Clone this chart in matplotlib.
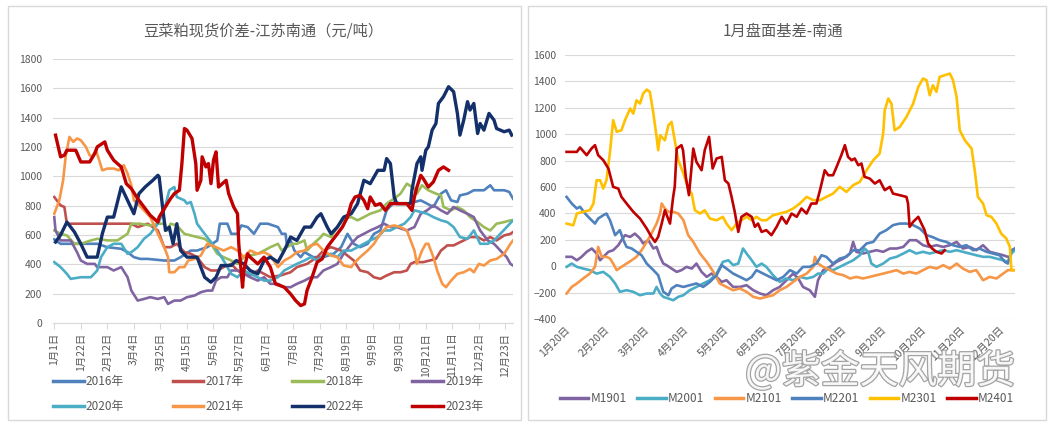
import matplotlib
matplotlib.use("Agg")
import matplotlib.pyplot as plt
import matplotlib.patheffects as pe
from matplotlib.patches import Rectangle

plt.rcParams['font.family'] = ['Noto Sans CJK SC', 'DejaVu Sans']

# ---------------- left chart: spot spread by year (x = day of year) ----------------
left_ticks = ['1月1日', '1月22日', '2月12日', '3月4日', '3月25日', '4月15日', '5月6日',
              '5月27日', '6月17日', '7月8日', '7月29日', '8月19日', '9月9日', '9月30日',
              '10月21日', '11月11日', '12月2日', '12月23日']

d2016 = [0, 5, 13, 24, 34, 42, 53, 58, 63, 68, 74, 87, 95, 100, 108, 113, 121, 129, 131, 137, 140, 145,
         148, 153, 158, 163, 169, 177, 180, 183, 184, 187, 190, 195, 198, 205, 213, 221, 227, 232, 237,
         242, 248, 253, 258, 263, 269, 274, 279, 285, 290, 295, 300, 306, 310, 314, 319, 321, 327, 332,
         340, 345, 348, 356, 360, 363]
v2016 = [570, 540, 540, 540, 540, 517, 506, 483, 449, 437, 437, 426, 426, 449, 494, 494, 517, 563, 677,
         677, 608, 608, 665, 654, 608, 677, 677, 654, 608, 608, 540, 563, 494, 449, 483, 449, 449, 472,
         517, 608, 540, 517, 540, 608, 631, 768, 825, 814, 814, 825, 836, 814, 791, 882, 905, 836, 825,
         870, 882, 905, 905, 939, 905, 905, 894, 848]

d2017 = [0, 5, 8, 10, 21, 34, 47, 61, 66, 74, 82, 87, 92, 97, 103, 108, 113, 119, 124, 129, 134, 140,
         145, 150, 155, 161, 166, 171, 179, 187, 192, 200, 208, 213, 219, 227, 232, 237, 242, 248, 253,
         258, 263, 269, 274, 279, 282, 285, 292, 297, 302, 306, 311, 316, 324, 329, 335, 340, 345, 350,
         356, 361, 363]
v2017 = [859, 802, 791, 677, 677, 677, 677, 677, 654, 677, 631, 517, 517, 540, 483, 472, 449, 381, 358,
         358, 381, 403, 358, 335, 324, 358, 335, 312, 324, 346, 381, 403, 449, 494, 517, 494, 460, 426,
         358, 346, 312, 301, 324, 346, 346, 358, 403, 415, 415, 426, 437, 494, 529, 529, 563, 586, 586,
         563, 586, 563, 597, 608, 620]

d2018 = [0, 5, 10, 16, 21, 29, 34, 42, 50, 58, 61, 68, 76, 82, 87, 90, 92, 97, 103, 108, 113, 119, 124,
         129, 134, 140, 145, 150, 155, 161, 166, 171, 177, 180, 184, 189, 192, 198, 200, 205, 211, 213,
         219, 224, 229, 235, 240, 245, 250, 258, 263, 269, 274, 279, 285, 287, 291, 296, 302, 306, 308,
         314, 319, 324, 329, 335, 340, 345, 350, 356, 361, 363]
v2018 = [631, 608, 597, 540, 540, 563, 574, 563, 563, 608, 677, 677, 665, 677, 677, 631, 677, 665, 608,
         597, 586, 574, 540, 472, 449, 426, 403, 449, 460, 472, 494, 517, 540, 494, 517, 540, 540, 563,
         494, 540, 586, 608, 586, 654, 711, 722, 700, 722, 745, 768, 814, 848, 882, 950, 916, 882, 939,
         905, 882, 870, 791, 768, 791, 768, 722, 688, 654, 631, 677, 688, 700, 700]

d2019 = [0, 1, 5, 13, 18, 21, 26, 32, 34, 42, 47, 53, 58, 61, 66, 71, 76, 82, 87, 90, 95, 100, 105, 111,
         116, 121, 125, 128, 132, 137, 140, 145, 150, 155, 161, 166, 171, 177, 182, 187, 192, 198, 203,
         208, 213, 219, 224, 229, 235, 240, 245, 250, 256, 261, 266, 271, 279, 285, 290, 295, 300, 306,
         311, 316, 321, 327, 332, 337, 343, 348, 353, 358, 361, 363]
v2019 = [722, 631, 563, 563, 483, 426, 403, 403, 381, 381, 358, 381, 312, 221, 153, 164, 176, 164, 176,
         130, 153, 153, 176, 187, 210, 221, 221, 289, 312, 312, 358, 358, 335, 312, 289, 312, 267, 267,
         244, 244, 267, 289, 312, 312, 358, 381, 403, 472, 540, 586, 608, 631, 654, 677, 654, 654, 631,
         654, 745, 768, 802, 768, 745, 791, 768, 745, 722, 631, 563, 540, 494, 449, 403, 392]

d2020 = [0, 5, 10, 13, 21, 29, 34, 37, 42, 47, 53, 58, 61, 66, 71, 76, 82, 87, 91, 95, 97, 103, 105, 108,
         111, 113, 119, 124, 129, 134, 140, 145, 150, 155, 161, 166, 171, 177, 182, 187, 192, 198, 203,
         208, 213, 219, 224, 229, 235, 240, 245, 250, 256, 261, 266, 271, 277, 282, 285, 290, 295, 300,
         306, 311, 316, 321, 327, 332, 337, 343, 348, 353, 358, 363]
v2020 = [415, 381, 335, 301, 312, 312, 358, 449, 517, 540, 540, 472, 483, 517, 574, 608, 677, 768, 905,
         927, 859, 836, 814, 825, 745, 677, 608, 552, 494, 426, 335, 312, 358, 335, 312, 289, 289, 312,
         358, 381, 403, 426, 449, 426, 460, 472, 449, 494, 494, 517, 540, 563, 586, 631, 631, 654, 677,
         722, 768, 757, 745, 722, 700, 688, 654, 586, 574, 631, 540, 540, 563, 608, 654, 700]

d2021 = [0, 4, 7, 9, 12, 15, 18, 21, 25, 28, 30, 33, 36, 38, 42, 47, 51, 55, 58, 61, 63, 66, 71, 76, 82,
         87, 90, 91, 95, 99, 103, 106, 111, 116, 121, 128, 134, 140, 145, 150, 155, 161, 166, 171, 177,
         182, 187, 192, 198, 203, 208, 213, 219, 224, 229, 235, 238, 242, 248, 253, 258, 263, 269, 274,
         279, 285, 287, 291, 294, 296, 300, 303, 307, 310, 314, 319, 324, 329, 332, 336, 340, 345, 350,
         356, 361, 363]
v2021 = [745, 836, 973, 1133, 1269, 1235, 1258, 1246, 1201, 1144, 1133, 1178, 1098, 1041, 1053, 1053,
         1041, 1076, 1019, 939, 836, 814, 768, 722, 608, 517, 449, 346, 346, 381, 381, 426, 437, 460,
         540, 517, 494, 517, 494, 449, 494, 472, 483, 460, 381, 426, 449, 483, 494, 529, 540, 494, 460,
         449, 392, 381, 415, 449, 494, 540, 608, 654, 665, 654, 631, 494, 403, 494, 540, 540, 449, 358,
         267, 244, 289, 335, 346, 369, 346, 403, 392, 426, 437, 472, 540, 563]

d2022 = [1, 5, 10, 16, 21, 26, 34, 38, 42, 47, 53, 58, 63, 67, 72, 78, 82, 83, 86, 88, 91, 94, 97, 100,
         105, 113, 119, 124, 128, 132, 140, 144, 150, 155, 161, 166, 171, 177, 182, 187, 192, 198, 203,
         208, 211, 216, 219, 224, 229, 235, 240, 245, 250, 256, 261, 263, 266, 269, 271, 282, 283, 287,
         290, 291, 294, 296, 299, 302, 304, 308, 312, 316, 319, 321, 324, 327, 329, 332, 335, 337, 340,
         344, 348, 350, 356, 360, 362]
v2022 = [552, 600, 688, 620, 540, 449, 449, 608, 722, 722, 928, 836, 745, 882, 928, 973, 1007, 996, 768,
         631, 654, 540, 677, 494, 449, 449, 312, 278, 312, 392, 392, 426, 403, 358, 335, 426, 449, 415,
         494, 586, 563, 654, 654, 722, 745, 654, 608, 654, 722, 745, 814, 973, 950, 1041, 1041, 1121,
         1087, 859, 814, 814, 905, 1087, 1133, 1041, 1178, 1201, 1315, 1360, 1497, 1543, 1611, 1577,
         1429, 1281, 1383, 1509, 1452, 1497, 1292, 1360, 1315, 1429, 1383, 1326, 1304, 1315, 1281]

d2023 = [1, 5, 8, 10, 17, 21, 28, 32, 34, 40, 42, 47, 53, 57, 61, 66, 71, 76, 82, 83, 87, 92, 95, 99,
         101, 103, 105, 109, 112, 113, 116, 117, 120, 122, 124, 126, 128, 130, 133, 136, 138, 142, 145,
         146, 149, 150, 153, 155, 161, 166, 171, 175, 182, 187, 191, 195, 198, 200, 204, 208, 212, 216,
         220, 224, 228, 232, 235, 238, 242, 245, 248, 250, 254, 258, 262, 266, 271, 279, 283, 285, 287,
         290, 292, 296, 300, 304, 308, 312]
v2023 = [1281, 1133, 1144, 1178, 1178, 1098, 1098, 1155, 1201, 1235, 1178, 1110, 1064, 950, 916, 848,
         791, 734, 688, 722, 779, 848, 882, 905, 1087, 1326, 1315, 1258, 1087, 905, 973, 1133, 1064,
         1087, 950, 1110, 1167, 927, 950, 973, 882, 791, 745, 540, 244, 358, 472, 449, 403, 449, 381,
         267, 244, 198, 153, 119, 130, 221, 312, 415, 437, 517, 563, 608, 654, 722, 814, 859, 870, 836,
         779, 859, 802, 814, 768, 814, 814, 814, 768, 859, 927, 1007, 984, 927, 962, 1041, 1064, 1041]

left_series = [('2016年', d2016, v2016, '#4F81BD'), ('2017年', d2017, v2017, '#C0504D'),
               ('2018年', d2018, v2018, '#9BBB59'), ('2019年', d2019, v2019, '#8064A2'),
               ('2020年', d2020, v2020, '#4BACC6'), ('2021年', d2021, v2021, '#F79646'),
               ('2022年', d2022, v2022, '#14306B'), ('2023年', d2023, v2023, '#C00000')]

# ---------------- right chart: January contract basis (x = months since 1月20日) ----------------
right_ticks = ['1月20日', '2月20日', '3月20日', '4月20日', '5月20日', '6月20日', '7月20日',
               '8月20日', '9月20日', '10月20日', '11月20日', '12月20日']

m1901 = [0.04, 0.17, 0.3, 0.42, 0.55, 0.68, 0.8, 0.89, 0.97, 1.1, 1.22, 1.35, 1.43, 1.52, 1.65, 1.77,
         1.9, 1.98, 2.11, 2.24, 2.32, 2.41, 2.49, 2.57, 2.7, 2.83, 2.95, 3.08, 3.21, 3.33, 3.46, 3.59,
         3.71, 3.84, 3.97, 4.09, 4.26, 4.43, 4.6, 4.77, 4.94, 5.1, 5.27, 5.44, 5.61, 5.78, 5.91, 6.03,
         6.2, 6.33, 6.41, 6.54, 6.71, 6.88, 7.05, 7.22, 7.3, 7.38, 7.55, 7.72, 7.89, 8.06, 8.23, 8.4,
         8.57, 8.73, 8.9, 9.07, 9.24, 9.41, 9.58, 9.75, 9.92, 10.08, 10.25, 10.42, 10.59, 10.76, 10.93,
         11.1, 11.22]
y1901 = [71, 71, 45, 71, 109, 134, 96, 45, 71, 109, 121, 159, 197, 235, 222, 247, 210, 172, 197, 134,
         146, 71, 20, 8, -18, -43, -30, -5, -18, 20, -43, -81, -56, -81, -119, -106, -157, -157, -144,
         -182, -207, -220, -182, -157, -106, -56, -93, -157, -182, -232, -106, -30, -5, 33, 58, 96, 184,
         109, 96, 109, 121, 109, 134, 134, 146, 197, 197, 159, 146, 159, 146, 159, 184, 134, 146, 121,
         159, 109, 96, 83, 71]

m2001 = [0.04, 0.17, 0.3, 0.46, 0.63, 0.8, 0.97, 1.14, 1.27, 1.39, 1.56, 1.73, 1.9, 2.07, 2.24, 2.32,
         2.41, 2.49, 2.62, 2.74, 2.87, 3.0, 3.16, 3.33, 3.5, 3.67, 3.84, 4.0, 4.14, 4.26, 4.39, 4.51,
         4.6, 4.73, 4.85, 4.98, 5.1, 5.27, 5.44, 5.61, 5.78, 5.95, 6.12, 6.29, 6.41, 6.54, 6.67, 6.79,
         6.96, 7.13, 7.3, 7.47, 7.59, 7.68, 7.76, 7.89, 8.06, 8.23, 8.4, 8.57, 8.73, 8.9, 9.07, 9.24,
         9.41, 9.58, 9.75, 9.92, 10.08, 10.25, 10.42, 10.59, 10.76, 10.93, 11.1, 11.22, 11.31, 11.39]
y2001 = [-5, 20, -5, -18, -30, -56, -43, -81, -131, -194, -182, -194, -220, -207, -207, -157, -207,
         -232, -245, -258, -232, -220, -182, -157, -131, -106, -56, 33, 45, 8, 20, 134, 96, 45, -5, 20,
         -5, -68, -119, -93, -106, -81, -93, -81, -56, -56, -18, -30, -5, 20, 45, 83, 134, 109, 20, -5,
         20, 58, 71, 96, 121, 96, 109, 96, 109, 121, 109, 121, 109, 96, 83, 71, 71, 58, 45, 33, 96, 121]

m2101 = [0.04, 0.17, 0.3, 0.46, 0.63, 0.76, 0.84, 0.93, 1.05, 1.14, 1.22, 1.31, 1.43, 1.56, 1.69, 1.81,
         1.94, 2.07, 2.19, 2.32, 2.41, 2.45, 2.53, 2.62, 2.74, 2.87, 3.0, 3.12, 3.25, 3.42, 3.59, 3.76,
         3.92, 4.09, 4.26, 4.43, 4.6, 4.77, 4.94, 5.1, 5.27, 5.44, 5.61, 5.78, 5.95, 6.12, 6.29, 6.33,
         6.41, 6.54, 6.71, 6.88, 7.05, 7.22, 7.38, 7.55, 7.72, 7.89, 8.06, 8.23, 8.4, 8.57, 8.73, 8.9,
         9.07, 9.24, 9.41, 9.58, 9.75, 9.92, 10.08, 10.25, 10.42, 10.59, 10.76, 10.93, 11.1, 11.22, 11.39]
y2101 = [-207, -157, -131, -93, -56, -5, 146, 71, 71, 58, 20, -30, -5, 20, 45, 71, 121, 184, 247, 323,
         399, 475, 437, 412, 412, 399, 348, 235, 184, 96, 33, -43, -131, -157, -182, -169, -194, -232,
         -245, -232, -220, -182, -157, -119, -81, -56, -5, 71, 20, -5, -30, -56, -68, -93, -81, -93, -81,
         -68, -56, -43, -30, -56, -43, -56, -30, -5, -18, 8, -18, 20, -18, -43, -30, -106, -81, -93, -56,
         -30, -30]

m2201 = [0.04, 0.17, 0.3, 0.38, 0.51, 0.63, 0.76, 0.84, 0.97, 1.05, 1.14, 1.27, 1.39, 1.48, 1.56, 1.69,
         1.81, 1.94, 2.07, 2.24, 2.36, 2.49, 2.62, 2.7, 2.83, 3.0, 3.16, 3.33, 3.5, 3.67, 3.84, 3.97,
         4.09, 4.26, 4.43, 4.6, 4.73, 4.85, 5.02, 5.19, 5.36, 5.53, 5.7, 5.87, 6.03, 6.2, 6.37, 6.5,
         6.62, 6.79, 6.96, 7.13, 7.3, 7.47, 7.64, 7.81, 7.97, 8.14, 8.31, 8.48, 8.65, 8.82, 8.99, 9.16,
         9.3, 9.49, 9.66, 9.83, 10.0, 10.17, 10.34, 10.5, 10.68, 10.84, 11.01, 11.14, 11.22, 11.31, 11.39]
y2201 = [525, 475, 437, 450, 399, 361, 323, 361, 386, 399, 348, 235, 273, 197, 146, 134, 109, 83, 20,
         -30, -68, -194, -220, -169, -144, -157, -144, -131, -157, -119, -68, 8, -18, -56, -81, -106, -81,
         -30, -56, -81, -106, -81, -30, -56, -5, -5, 20, 83, 71, 20, 58, 71, 121, 121, 172, 184, 247,
         273, 311, 323, 323, 311, 285, 235, 222, 197, 184, 159, 146, 159, 121, 134, 109, 96, 83, 33, 20,
         121, 134]

m2301 = [0.04, 0.21, 0.3, 0.46, 0.63, 0.72, 0.8, 0.89, 0.97, 1.05, 1.14, 1.22, 1.31, 1.43, 1.52, 1.65,
         1.73, 1.81, 1.9, 1.98, 2.07, 2.15, 2.24, 2.32, 2.36, 2.41, 2.53, 2.62, 2.7, 2.78, 2.87, 3.0,
         3.12, 3.21, 3.29, 3.42, 3.54, 3.67, 3.84, 4.0, 4.09, 4.22, 4.35, 4.47, 4.6, 4.73, 4.85, 4.98,
         5.1, 5.27, 5.44, 5.61, 5.78, 5.95, 6.12, 6.29, 6.46, 6.62, 6.79, 6.96, 7.13, 7.3, 7.47, 7.64,
         7.81, 7.97, 8.06, 8.1, 8.19, 8.27, 8.35, 8.48, 8.65, 8.82, 8.95, 9.07, 9.16, 9.24, 9.32, 9.41,
         9.49, 9.62, 9.75, 9.83, 9.92, 10.0, 10.13, 10.3, 10.38, 10.46, 10.59, 10.68, 10.8, 10.93, 11.05,
         11.18, 11.27, 11.31, 11.39]
y2301 = [323, 310, 399, 412, 424, 475, 651, 651, 588, 651, 866, 1106, 1018, 1030, 1106, 1194, 1156,
         1257, 1232, 1308, 1338, 1321, 1156, 980, 879, 992, 954, 1068, 1093, 954, 803, 702, 588, 550,
         424, 399, 424, 361, 348, 374, 323, 273, 323, 348, 374, 348, 374, 348, 348, 386, 399, 412, 437,
         475, 525, 500, 500, 525, 550, 601, 563, 614, 639, 727, 803, 853, 1005, 1182, 1270, 1232, 1030,
         1055, 1131, 1232, 1358, 1422, 1409, 1295, 1371, 1321, 1434, 1447, 1459, 1409, 1283, 1030, 954,
         891, 727, 525, 475, 386, 374, 323, 247, 210, 146, -30, -30]

m2401 = [0.04, 0.3, 0.38, 0.55, 0.67, 0.76, 0.84, 0.97, 1.1, 1.22, 1.35, 1.43, 1.56, 1.73, 1.9, 2.07,
         2.19, 2.28, 2.36, 2.45, 2.53, 2.66, 2.74, 2.78, 2.83, 2.95, 2.99, 3.06, 3.14, 3.25, 3.33, 3.46,
         3.54, 3.65, 3.74, 3.84, 3.97, 4.05, 4.14, 4.22, 4.3, 4.39, 4.47, 4.6, 4.73, 4.81, 4.89, 4.98,
         5.1, 5.23, 5.36, 5.49, 5.61, 5.74, 5.87, 5.99, 6.12, 6.24, 6.37, 6.46, 6.58, 6.67, 6.79, 6.88,
         7.0, 7.09, 7.17, 7.26, 7.34, 7.43, 7.51, 7.59, 7.72, 7.85, 7.97, 8.1, 8.23, 8.31, 8.48, 8.65,
         8.69, 8.73, 8.82, 8.95, 9.03, 9.11, 9.2, 9.3, 9.41, 9.54, 9.62]
y2401 = [866, 866, 899, 841, 891, 917, 841, 803, 740, 601, 588, 525, 475, 412, 361, 285, 222, 184, 222,
         323, 424, 323, 525, 601, 891, 917, 879, 677, 538, 891, 790, 727, 879, 980, 740, 816, 828, 651,
         626, 525, 412, 260, 374, 399, 374, 298, 323, 260, 273, 235, 298, 374, 323, 399, 374, 437, 399,
         475, 475, 576, 727, 689, 689, 752, 841, 917, 828, 803, 816, 765, 778, 677, 664, 626, 651, 576,
         601, 550, 538, 525, 475, 298, 336, 374, 323, 273, 172, 134, 109, 96, 121]

right_series = [('M1901', m1901, y1901, '#8064A2'), ('M2001', m2001, y2001, '#4BACC6'),
                ('M2101', m2101, y2101, '#F79646'), ('M2201', m2201, y2201, '#4F81BD'),
                ('M2301', m2301, y2301, '#FFC000'), ('M2401', m2401, y2401, '#C00000')]

grey = '#595959'
grid = '#d9d9d9'

fig = plt.figure(figsize=(10.56, 4.25), dpi=100)

# panel frames
fig.patches.append(Rectangle((8 / 1056, 1 - 420 / 425), 513 / 1056, 414 / 425, transform=fig.transFigure,
                             fill=False, edgecolor=grid, lw=1))
fig.patches.append(Rectangle((528 / 1056, 1 - 420 / 425), 518 / 1056, 414 / 425, transform=fig.transFigure,
                             fill=False, edgecolor=grid, lw=1))

# ---- left axes
ax1 = fig.add_axes([53 / 1056, 1 - 323 / 425, 460 / 1056, 264 / 425])
for name, d, v, c in left_series:
    lw = 2.4 if name in ('2022年', '2023年') else 1.9
    ax1.plot(d, v, color=c, lw=lw, label=name, solid_joinstyle='round')
ax1.set_xlim(-1, 363)
ax1.set_ylim(0, 1800)
ax1.set_yticks(range(0, 1801, 200))
ax1.set_xticks([i * 21 for i in range(len(left_ticks))])
ax1.set_xticklabels(left_ticks, rotation=90, fontsize=7.5, color=grey)
ax1.tick_params(axis='y', length=0, labelsize=7.5, labelcolor=grey, pad=8)
ax1.tick_params(axis='x', length=4, color=grid, pad=3)
ax1.grid(axis='y', color=grid, lw=0.8)
ax1.set_axisbelow(True)
for s in ['top', 'right', 'left']:
    ax1.spines[s].set_visible(False)
ax1.spines['bottom'].set_color(grid)
fig.text(263 / 1056, 1 - 31 / 425, '豆菜粕现货价差-江苏南通（元/吨）', ha='center', va='center',
         fontsize=11, color=grey)
h, l = ax1.get_legend_handles_labels()
order = [0, 4, 1, 5, 2, 6, 3, 7]   # fill the 4x2 legend row by row
leg1 = fig.legend([h[i] for i in order], [l[i] for i in order], loc='center',
                  bbox_to_anchor=(268 / 1056, 1 - 394 / 425), ncol=4, frameon=False,
                  fontsize=8.5, handlelength=2.6, handletextpad=0.2, columnspacing=4.1, labelspacing=1.05)
for t in leg1.get_texts():
    t.set_color(grey)
for ln in leg1.get_lines():
    ln.set_linewidth(2.5)

# ---- right axes
ax2 = fig.add_axes([565 / 1056, 1 - 319 / 425, 450 / 1056, 264 / 425])
for name, m, y, c in right_series:
    ax2.plot(m, y, color=c, lw=1.9, label=name, solid_joinstyle='round')
ax2.set_xlim(0, 11.4)
ax2.set_ylim(-400, 1600)
ax2.set_yticks(range(-400, 1601, 200))
ax2.set_xticks(range(len(right_ticks)))
ax2.set_xticklabels(right_ticks, rotation=45, ha='right', rotation_mode='anchor', fontsize=7.5, color=grey)
ax2.tick_params(axis='y', length=0, labelsize=7.5, labelcolor=grey, pad=6)
ax2.tick_params(axis='x', length=0, pad=4)
ax2.grid(axis='y', color=grid, lw=0.8)
ax2.set_axisbelow(True)
for s in ['top', 'right', 'left', 'bottom']:
    ax2.spines[s].set_visible(False)
fig.text(783 / 1056, 1 - 31 / 425, '1月盘面基差-南通', ha='center', va='center', fontsize=11, color=grey)
h, l = ax2.get_legend_handles_labels()
leg2 = fig.legend(h, l, loc='center', bbox_to_anchor=(787 / 1056, 1 - 399 / 425), ncol=6, frameon=False,
                  fontsize=8.5, handlelength=2.4, handletextpad=0.2, columnspacing=0.9)
for t in leg2.get_texts():
    t.set_color(grey)
for ln in leg2.get_lines():
    ln.set_linewidth(2.5)

# watermark
fig.text(880 / 1056, 1 - 372 / 425, '@紫金天风期货', ha='center', va='center', fontsize=28,
         color='white', alpha=0.9, zorder=10,
         path_effects=[pe.withStroke(linewidth=1.8, foreground='#9a9a9a')])

fig.savefig('out.png', dpi=100)
